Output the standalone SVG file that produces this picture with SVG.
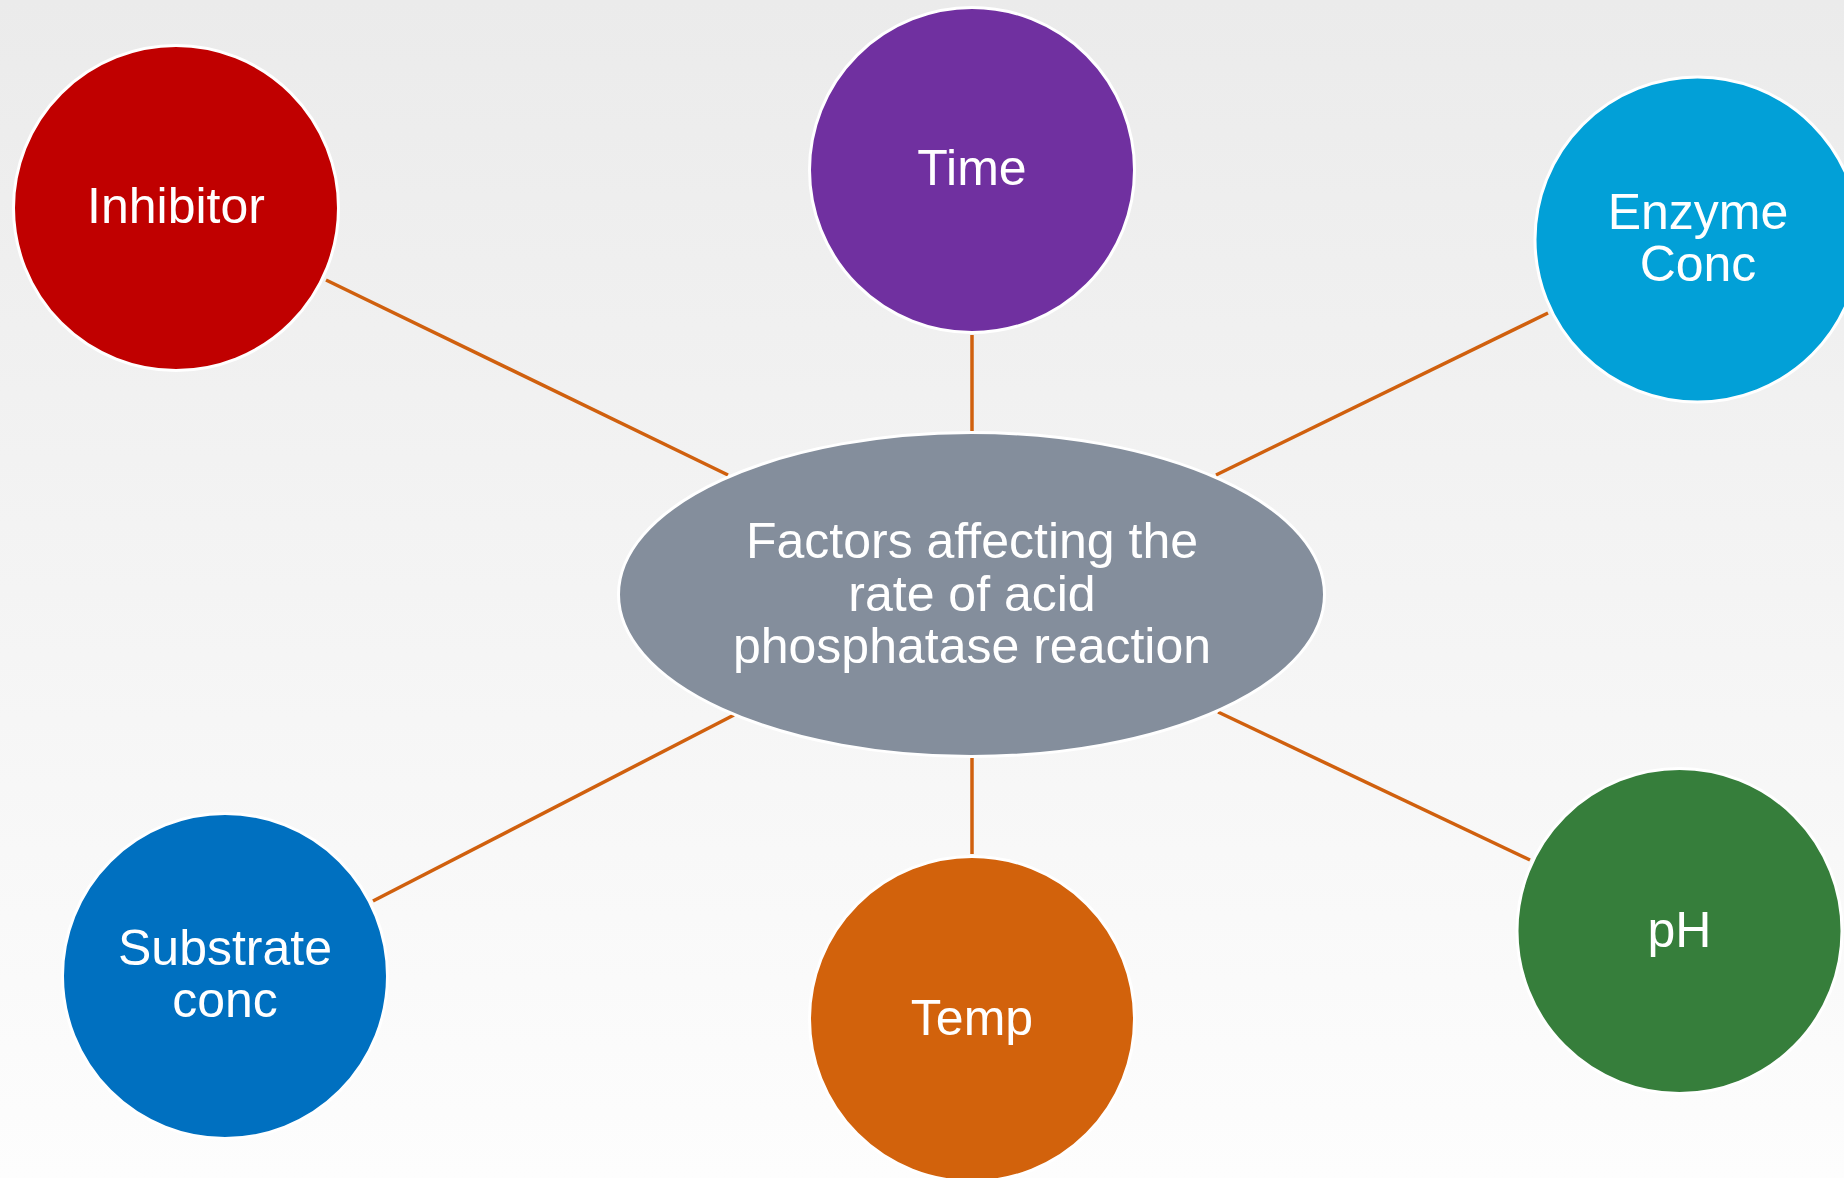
<svg xmlns="http://www.w3.org/2000/svg" width="1844" height="1178" viewBox="0 0 1844 1178">
  <defs>
    <linearGradient id="bg" x1="0" y1="0" x2="0" y2="1">
      <stop offset="0" stop-color="#EBEBEB"/>
      <stop offset="1" stop-color="#FDFDFD"/>
    </linearGradient>
    <style>
      .node { stroke: #FFFFFF; stroke-width: 3; }
      .label { font-family: "Liberation Sans", Arial, sans-serif; font-size: 50px; fill: #FFFFFF; text-anchor: middle; }
      .link { stroke: #D0600E; stroke-width: 3.5; fill: none; }
    </style>
  </defs>

  <rect x="0" y="0" width="1844" height="1178" fill="url(#bg)"/>

  <!-- spokes from the hub to each factor -->
  <g id="connectors">
    <line class="link" x1="326" y1="280" x2="728" y2="475"/>
    <line class="link" x1="972" y1="335" x2="972" y2="431"/>
    <line class="link" x1="1548" y1="313" x2="1216" y2="475"/>
    <line class="link" x1="373" y1="901" x2="734" y2="715"/>
    <line class="link" x1="972" y1="758" x2="972" y2="854"/>
    <line class="link" x1="1530" y1="860" x2="1218" y2="712"/>
  </g>

  <!-- hub -->
  <g id="hub">
    <ellipse class="node" cx="971.5" cy="594.5" rx="353" ry="162" fill="#848E9C"/>
    <text class="label" x="972" y="558">Factors affecting the</text>
    <text class="label" x="972" y="610.5">rate of acid</text>
    <text class="label" x="972" y="663">phosphatase reaction</text>
  </g>

  <g id="inhibitor">
    <circle class="node" cx="176" cy="208" r="162.5" fill="#C00000"/>
    <text class="label" x="176" y="223">Inhibitor</text>
  </g>

  <g id="time">
    <circle class="node" cx="972" cy="170" r="162.5" fill="#7030A0"/>
    <text class="label" x="972" y="185">Time</text>
  </g>

  <g id="enzyme-conc">
    <circle class="node" cx="1697.5" cy="239.5" r="162.5" fill="#02A0D7"/>
    <text class="label" x="1698" y="229">Enzyme</text>
    <text class="label" x="1698" y="281">Conc</text>
  </g>

  <g id="substrate-conc">
    <circle class="node" cx="225" cy="976" r="162.5" fill="#0070C0"/>
    <text class="label" x="225" y="965">Substrate</text>
    <text class="label" x="225" y="1017">conc</text>
  </g>

  <g id="temp">
    <circle class="node" cx="972" cy="1019" r="162.5" fill="#D2620C"/>
    <text class="label" x="972" y="1035">Temp</text>
  </g>

  <g id="ph">
    <circle class="node" cx="1679.5" cy="931" r="162.5" fill="#367E3B"/>
    <text class="label" x="1679.5" y="947">pH</text>
  </g>
</svg>
